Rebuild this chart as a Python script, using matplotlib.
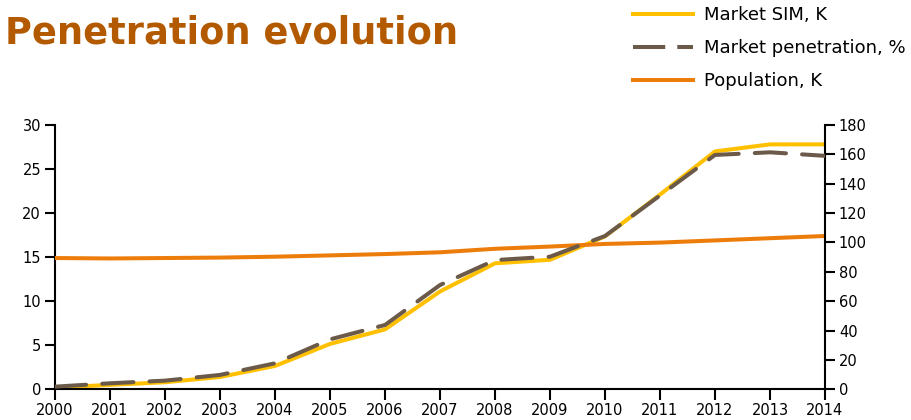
import matplotlib
matplotlib.use("Agg")
import matplotlib.pyplot as plt
from matplotlib.lines import Line2D

years = list(range(2000, 2015))
market_sim_k = [0.2, 0.5, 0.8, 1.4, 2.65, 5.15, 6.8, 11.1, 14.3, 14.7, 17.35, 22.1, 27.0, 27.8, 27.8]
penetration_pct = [1.8, 4.1, 5.9, 9.8, 17.7, 34.0, 43.8, 71.0, 88.0, 90.3, 104.4, 132.0, 159.6, 161.4, 159.0]
population_k = [14.9, 14.85, 14.9, 14.95, 15.05, 15.2, 15.35, 15.55, 15.95, 16.2, 16.5, 16.65, 16.9, 17.15, 17.4]

left_ticks = [0, 5, 10, 15, 20, 25, 30]
right_ticks = [0, 20, 40, 60, 80, 100, 120, 140, 160, 180]

c_sim = "#FFC000"
c_pen = "#6B5A4A"
c_pop = "#ED7D0A"
c_title = "#B35A00"

plt.rcParams["font.family"] = ["DejaVu Sans"]

fig = plt.figure(figsize=(9.12, 4.2), dpi=100)
ax = fig.add_axes([0.0603, 0.0731, 0.8443, 0.6293])
ax2 = ax.twinx()

lw = 2.9
ax.plot(years, market_sim_k, color=c_sim, lw=lw, solid_capstyle="butt", zorder=2)
ax.plot(years, population_k, color=c_pop, lw=lw, solid_capstyle="butt", zorder=3)
ax2.plot(years, penetration_pct, color=c_pen, lw=lw, dashes=(7.75, 4.0),
         dash_capstyle="round", zorder=4)

ax.set_xlim(2000, 2014)
ax.set_ylim(0, 30)
ax2.set_ylim(0, 180)
ax.set_xticks(years)
ax.set_yticks(left_ticks)
ax2.set_yticks(right_ticks)

for a in (ax, ax2):
    a.spines["top"].set_visible(False)
    for s in a.spines.values():
        s.set_linewidth(1.5)
        s.set_color("black")
    a.tick_params(axis="both", direction="out", length=7, width=1.5,
                  labelsize=10.5, colors="black", pad=3)
ax.spines["right"].set_visible(False)
ax2.spines["left"].set_visible(False)
ax2.spines["bottom"].set_visible(False)
ax.tick_params(axis="x", length=8, pad=2)

fig.text(0.005, 0.921, "Penetration evolution", fontsize=26.5, fontweight="bold",
         color=c_title, va="center", ha="left")

handles = [
    Line2D([], [], color=c_sim, lw=lw),
    Line2D([], [], color=c_pen, lw=lw, dashes=(8, 3)),
    Line2D([], [], color=c_pop, lw=lw),
]
labels = ["Market SIM, K", "Market penetration, %", "Population, K"]
fig.legend(handles, labels, loc="upper left", bbox_to_anchor=(633 / 912, 0.985),
           frameon=False, fontsize=13, handlelength=3.3, handletextpad=0.66,
           labelspacing=0.82, borderpad=0, borderaxespad=0)

fig.savefig("out.png", dpi=100)
